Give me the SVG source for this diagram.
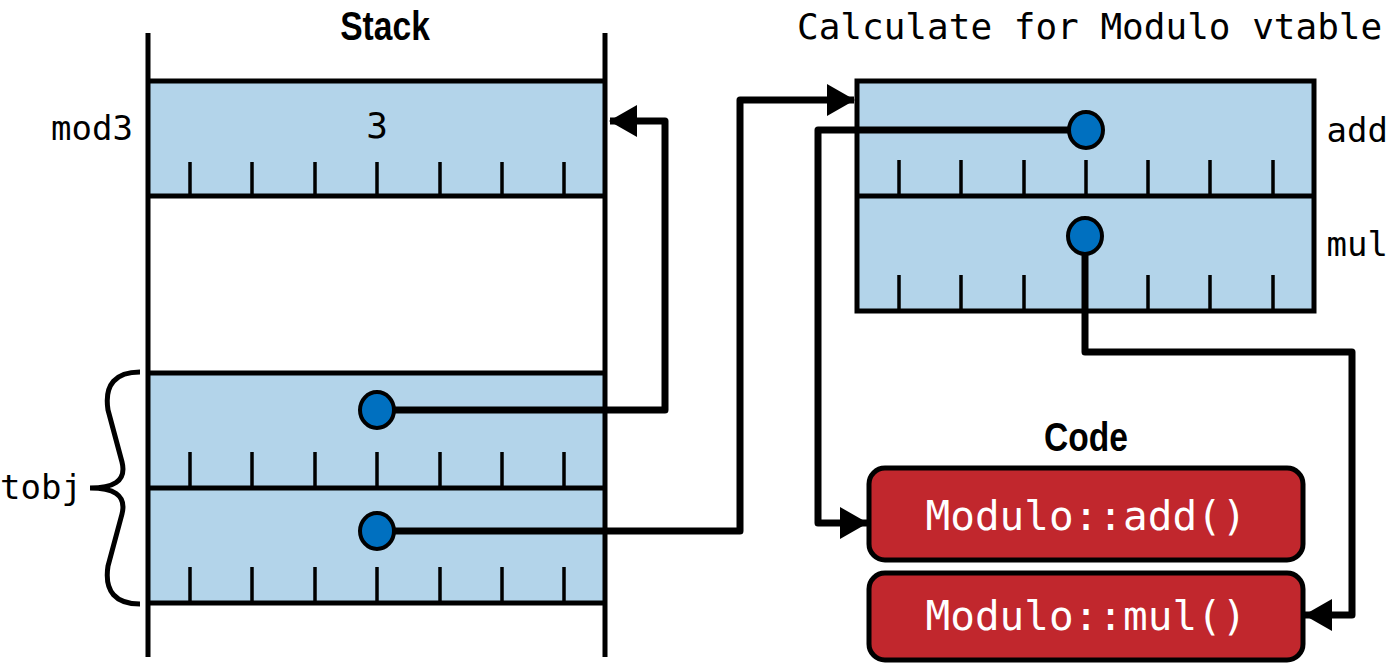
<svg xmlns="http://www.w3.org/2000/svg" width="1389" height="663" viewBox="0 0 1389 663">
  <style>
    .cell { fill: #b3d4ea; stroke: none; }
    .hline { stroke: #000; stroke-width: 5; fill: none; }
    .tick { stroke: #000; stroke-width: 3.5; fill: none; }
    .vline { stroke: #000; stroke-width: 5; fill: none; }
    .box { fill: #b3d4ea; stroke: #000; stroke-width: 5; }
    .dot { fill: #0070c0; stroke: #000; stroke-width: 4; }
    .conn { stroke: #000; stroke-width: 7; fill: none; stroke-linejoin: round; }
    .mono { font-family: "DejaVu Sans Mono", "Liberation Mono", monospace; fill: #000; }
    .title { font-family: "Liberation Sans", "Noto Sans", sans-serif; font-weight: bold; font-size: 40px; fill: #000; }
    .code { fill: #c1272d; stroke: #000; stroke-width: 5; }
    .codetext { font-family: "DejaVu Sans Mono", "Liberation Mono", monospace; font-size: 41px; fill: #fff; }
  </style>
  <defs>
    <marker id="arrow" markerUnits="userSpaceOnUse" markerWidth="30" markerHeight="32" refX="27" refY="16" orient="auto">
      <path d="M0,0 L28,16 L0,32 z" fill="#000"/>
    </marker>
  </defs>

  <rect width="1389" height="663" fill="#fff"/>

  <!-- Stack -->
  <g id="stack">
    <text class="title" transform="translate(385,40) scale(0.84,1)" x="0" y="0" text-anchor="middle">Stack</text>
  </g>

  <g id="mod3">
    <rect class="cell" x="148" y="81" width="457" height="115"/>
    <line class="hline" x1="148" y1="81" x2="605" y2="81"/>
    <line class="hline" x1="148" y1="196" x2="605" y2="196"/>
    <path class="tick" d="M190,162V196 M252,162V196 M315,162V196 M377,162V196 M440,162V196 M502,162V196 M564,162V196"/>
    <text class="mono" x="377" y="138" font-size="36" text-anchor="middle">3</text>
    <text class="mono" x="133" y="140" font-size="34" text-anchor="end">mod3</text>
  </g>

  <g id="tobj">
    <rect class="cell" x="148" y="373" width="457" height="230"/>
    <line class="hline" x1="148" y1="373" x2="605" y2="373"/>
    <line class="hline" x1="148" y1="488" x2="605" y2="488"/>
    <line class="hline" x1="148" y1="603" x2="605" y2="603"/>
    <path class="tick" d="M190,452V488 M252,452V488 M315,452V488 M377,452V488 M440,452V488 M502,452V488 M564,452V488"/>
    <path class="tick" d="M190,567V603 M252,567V603 M315,567V603 M377,567V603 M440,567V603 M502,567V603 M564,567V603"/>
    <path class="hline" d="M140,372 C116,372 104,384 108,410 L122,462 C127,482 112,488 90,488 C112,488 127,494 122,514 L108,566 C104,592 116,604 140,604"/>
    <text class="mono" x="82" y="499" font-size="34" text-anchor="end">tobj</text>
  </g>

  <g id="stack-walls">
    <line class="vline" x1="148" y1="33" x2="148" y2="657"/>
    <line class="vline" x1="605" y1="33" x2="605" y2="657"/>
  </g>

  <!-- vtable -->
  <g id="vtable">
    <text class="mono" x="797" y="39" font-size="36">Calculate for Modulo vtable</text>
    <rect class="box" x="857" y="81" width="457" height="230"/>
    <line class="hline" x1="857" y1="196" x2="1314" y2="196"/>
    <path class="tick" d="M899,160V196 M961,160V196 M1024,160V196 M1086,160V196 M1148,160V196 M1210,160V196 M1273,160V196"/>
    <path class="tick" d="M899,275V311 M961,275V311 M1024,275V311 M1148,275V311 M1210,275V311 M1273,275V311"/>
    <text class="mono" x="1388" y="142" font-size="34" text-anchor="end">add</text>
    <text class="mono" x="1388" y="256" font-size="34" text-anchor="end">mul</text>
  </g>

  <!-- Code -->
  <g id="code">
    <text class="title" transform="translate(1086,451) scale(0.84,1)" x="0" y="0" text-anchor="middle">Code</text>
  </g>
  <g id="code-add">
    <rect class="code" x="869" y="468" width="434" height="92" rx="16"/>
    <text class="codetext" x="1086" y="530" text-anchor="middle">Modulo::add()</text>
  </g>
  <g id="code-mul">
    <rect class="code" x="869" y="573" width="434" height="87" rx="16"/>
    <text class="codetext" x="1086" y="630" text-anchor="middle">Modulo::mul()</text>
  </g>

  <!-- Connectors -->
  <g id="connectors">
    <path class="conn" d="M377,410 H665 V121 H610" marker-end="url(#arrow)"/>
    <path class="conn" d="M377,531 H740 V100 H854" marker-end="url(#arrow)"/>
    <path class="conn" d="M1086,130 H818 V523 H867" marker-end="url(#arrow)"/>
    <path class="conn" d="M1085,236 V352 H1352 V615 H1305" marker-end="url(#arrow)"/>
  </g>

  <!-- Pointer dots -->
  <g id="dots">
    <ellipse class="dot" cx="377" cy="410" rx="17" ry="18"/>
    <ellipse class="dot" cx="377" cy="531" rx="17" ry="18"/>
    <ellipse class="dot" cx="1086" cy="130" rx="17" ry="18"/>
    <ellipse class="dot" cx="1085" cy="236" rx="17" ry="18"/>
  </g>
</svg>
